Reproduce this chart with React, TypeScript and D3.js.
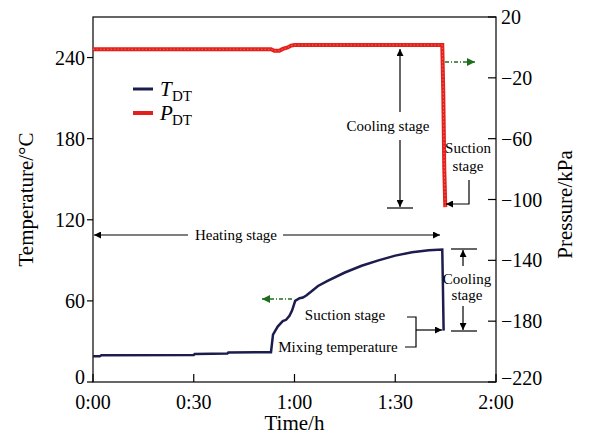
import * as d3 from 'd3';

// temperature series (min, °C)
const TIME_T = [0, 2, 2.5, 30, 30.3, 40, 40.3, 52.5, 53, 53.6, 55, 56.5, 57.5, 58.5, 59.3, 60.2, 61.5, 62.5, 63.5, 65, 67, 70, 75, 80, 85, 90, 95, 100, 104, 104.2, 104.4];
const TEMP = [19, 19, 19.8, 20, 20.8, 21, 21.8, 22, 22, 35, 41, 45, 46, 49, 53, 60, 62, 62.5, 64, 67, 71, 75, 81, 86, 90, 93.5, 96, 97.5, 98, 70, 38];

// pressure series (min, kPa)
const TIME_P = [0, 53, 54, 55.5, 56.5, 58, 59, 60, 104, 104.3, 104.6, 104.9];
const PRES = [-1.2, -1.2, -2.2, -2.2, -1, 0, 1.2, 1.6, 1.6, -30, -80, -105];

const X_TICKS = [0, 30, 60, 90, 120];
const X_LABELS = ['0:00', '0:30', '1:00', '1:30', '2:00'];
const T_TICKS = [0, 60, 120, 180, 240];
const P_TICKS = [20, -20, -60, -100, -140, -180, -220];

const FONT = '"Liberation Serif", "Times New Roman", serif';
const RED = '#e3201b';
const NAVY = '#1c1c4e';
const GREEN = '#1f6e1f';

const L = 93, R = 496, T = 17, B = 382;

export default function App() {
  const x = d3.scaleLinear().domain([0, 120]).range([L, R]);
  const yT = d3.scaleLinear().domain([0, 270]).range([B, T]);
  const yP = d3.scaleLinear().domain([-220, 20]).range([B, T]);

  const tempLine = d3.line<number>().x((_, i) => x(TIME_T[i])).y((d) => yT(d))(TEMP) ?? '';
  const presLine = d3.line<number>().x((_, i) => x(TIME_P[i])).y((d) => yP(d))(PRES) ?? '';

  return (
    <div style={{ position: 'absolute', left: 0, top: 0 }}>
      <svg width={591} height={436} fontFamily={FONT} style={{ display: 'block', background: '#fff' }}>
        <defs>
          <marker id="ah" viewBox="0 0 10 10" refX="10" refY="5" markerWidth="9" markerHeight="7" orient="auto-start-reverse" markerUnits="userSpaceOnUse">
            <path d="M0,0 L10,5 L0,10 z" fill="#000" />
          </marker>
          <marker id="ag" viewBox="0 0 10 10" refX="10" refY="5" markerWidth="8" markerHeight="8" orient="auto-start-reverse" markerUnits="userSpaceOnUse">
            <path d="M0,0 L10,5 L0,10 z" fill={GREEN} />
          </marker>
        </defs>

        {/* frame */}
        <rect x={L} y={T} width={R - L} height={B - T} fill="none" stroke="#000" strokeWidth={1.2} />

        {/* left axis */}
        {T_TICKS.map((v) => (
          <g key={'t' + v}>
            <line x1={L - 6} x2={L} y1={yT(v)} y2={yT(v)} stroke="#000" strokeWidth={1.2} />
            <text x={L - 8} y={yT(v) - (v === 0 ? 5 : 0)} textAnchor="end" dominantBaseline="central" fontSize={20}>{v}</text>
          </g>
        ))}
        {/* right axis */}
        {P_TICKS.map((v) => (
          <g key={'p' + v}>
            <line x1={R - 8} x2={R} y1={yP(v)} y2={yP(v)} stroke="#000" strokeWidth={1.2} />
            <text x={R + 5} y={yP(v) - (v === -220 ? 4 : 0)} textAnchor="start" dominantBaseline="central" fontSize={20}>
              {v < 0 ? '\u2212' + Math.abs(v) : v}
            </text>
          </g>
        ))}
        {/* bottom axis */}
        {X_TICKS.map((v, i) => (
          <g key={'x' + v}>
            <line x1={x(v)} x2={x(v)} y1={B - 8} y2={B} stroke="#000" strokeWidth={1.2} />
            <text x={x(v)} y={B + 27} textAnchor="middle" fontSize={20}>{X_LABELS[i]}</text>
          </g>
        ))}

        {/* axis titles */}
        <text transform={`translate(33,${(T + B) / 2}) rotate(-90)`} textAnchor="middle" fontSize={21}>Temperature/°C</text>
        <text transform={`translate(572,${(T + B) / 2 + 5}) rotate(-90)`} textAnchor="middle" fontSize={21}>Pressure/kPa</text>
        <text x={x(60)} y={430} textAnchor="middle" fontSize={21}>Time/h</text>

        {/* data */}
        <path d={presLine} fill="none" stroke={RED} strokeWidth={4} />
        <path d={presLine} fill="none" stroke="#f26a5a" strokeWidth={1} strokeDasharray="1.5,2" />
        <path d={tempLine} fill="none" stroke={NAVY} strokeWidth={2.5} />

        {/* legend */}
        <line x1={133} x2={153} y1={89} y2={89} stroke={NAVY} strokeWidth={3} />
        <text x={160} y={96} fontSize={21} fontStyle="italic">T</text>
        <text x={172} y={101} fontSize={15}>DT</text>
        <line x1={133} x2={153} y1={113} y2={113} stroke={RED} strokeWidth={4} />
        <text x={160} y={120} fontSize={21} fontStyle="italic">P</text>
        <text x={172} y={125} fontSize={15}>DT</text>

        {/* green axis arrows */}
        <line x1={445} x2={475} y1={62} y2={62} stroke={GREEN} strokeWidth={1.5} strokeDasharray="4,2,1,2" markerEnd="url(#ag)" />
        <line x1={292} x2={262} y1={299} y2={299} stroke={GREEN} strokeWidth={1.5} strokeDasharray="4,2,1,2" markerEnd="url(#ag)" />

        {/* cooling stage (pressure) */}
        <line x1={400} x2={400} y1={112} y2={49} stroke="#000" strokeWidth={1.2} markerEnd="url(#ah)" />
        <line x1={400} x2={400} y1={140} y2={207} stroke="#000" strokeWidth={1.2} markerEnd="url(#ah)" />
        <line x1={387} x2={413} y1={208} y2={208} stroke="#000" strokeWidth={1.2} />
        <text x={388} y={131} textAnchor="middle" fontSize={15}>Cooling stage</text>

        {/* suction stage (pressure) */}
        <text x={468} y={153} textAnchor="middle" fontSize={15}>Suction</text>
        <text x={468} y={171} textAnchor="middle" fontSize={15}>stage</text>
        <polyline points="469,180 469,204 446,204" fill="none" stroke="#000" strokeWidth={1.2} markerEnd="url(#ah)" />

        {/* heating stage */}
        <line x1={188} x2={L + 1} y1={235} y2={235} stroke="#000" strokeWidth={1.2} markerEnd="url(#ah)" />
        <line x1={283} x2={440} y1={235} y2={235} stroke="#000" strokeWidth={1.2} markerEnd="url(#ah)" />
        <text x={236} y={240} textAnchor="middle" fontSize={15}>Heating stage</text>

        {/* cooling stage (temperature) */}
        <line x1={451} x2={477} y1={249} y2={249} stroke="#000" strokeWidth={1.2} />
        <line x1={463} x2={463} y1={266} y2={250} stroke="#000" strokeWidth={1.2} markerEnd="url(#ah)" />
        <text x={467} y={284} textAnchor="middle" fontSize={15}>Cooling</text>
        <text x={467} y={300} textAnchor="middle" fontSize={15}>stage</text>
        <line x1={463} x2={463} y1={306} y2={330} stroke="#000" strokeWidth={1.2} markerEnd="url(#ah)" />
        <line x1={451} x2={477} y1={331} y2={331} stroke="#000" strokeWidth={1.2} />

        {/* suction stage / mixing temperature */}
        <text x={345} y={320} textAnchor="middle" fontSize={15}>Suction stage</text>
        <text x={338} y={352} textAnchor="middle" fontSize={15}>Mixing temperature</text>
        <polyline points="407,317 416,317 416,347 405,347" fill="none" stroke="#000" strokeWidth={1.2} />
        <line x1={416} x2={442} y1={330} y2={330} stroke="#000" strokeWidth={1.2} markerEnd="url(#ah)" />
      </svg>
    </div>
  );
}
